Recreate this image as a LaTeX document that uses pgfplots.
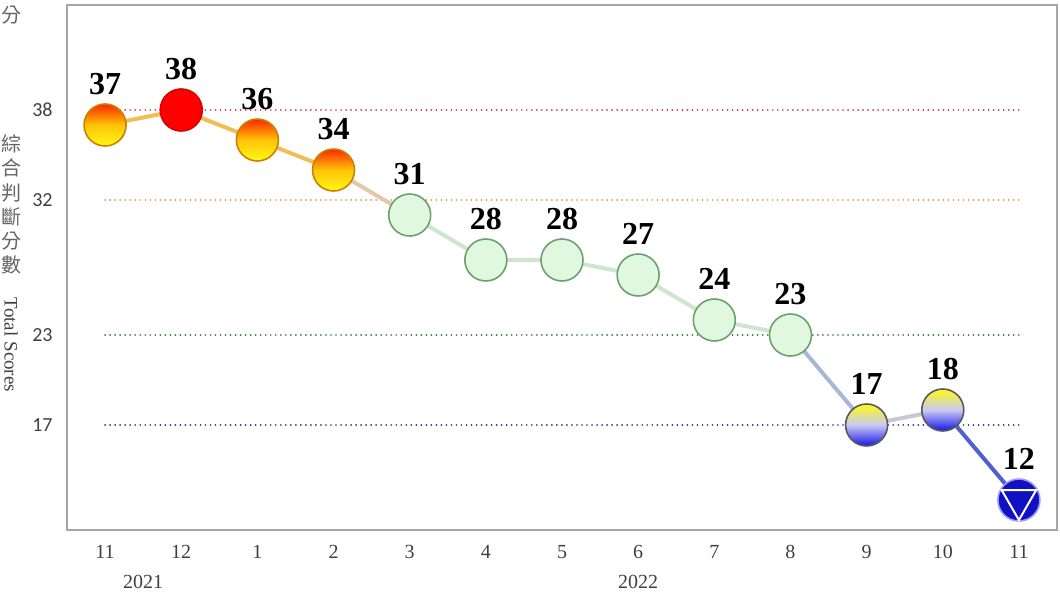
\documentclass[border=0pt]{standalone}
\usepackage{fontspec}
\setmainfont{Liberation Serif}
\newfontfamily\cjk{Noto Sans CJK TC}
\newfontfamily\carlito{Carlito}
\usepackage{pgfplots}
\pgfplotsset{compat=1.18}
\usetikzlibrary{shapes.geometric}

\definecolor{axgray}{RGB}{166,166,166}
\definecolor{labgray}{RGB}{64,64,64}
\definecolor{cjkgray}{RGB}{100,100,100}
\definecolor{refred}{RGB}{190,60,60}
\definecolor{reforange}{RGB}{225,145,70}
\definecolor{refgreen}{RGB}{40,125,40}
\definecolor{refblue}{RGB}{35,45,150}
\definecolor{ballred}{RGB}{250,40,0}
\definecolor{ballorange}{RGB}{255,160,0}
\definecolor{ballyellow}{RGB}{255,250,20}
\definecolor{ballgreen}{RGB}{224,248,224}
\definecolor{ballgreenedge}{RGB}{110,160,110}
\definecolor{ballblue}{RGB}{20,20,230}
\definecolor{segorange}{RGB}{240,190,85}
\definecolor{segtan}{RGB}{228,200,170}
\definecolor{seggreen}{RGB}{205,230,205}
\definecolor{segmix}{RGB}{165,185,215}
\definecolor{seggray}{RGB}{200,200,210}
\definecolor{segblue}{RGB}{80,95,210}

\pgfplotsset{
  refline/.style={line width=0.9pt, dash pattern=on 0.01pt off 2.5pt, line cap=round},
  seg/.style={line width=2pt, line cap=round},
  ball/.style={draw=none, nodes near coords={},
    every node near coord/.append style={circle, minimum size=21pt, inner sep=0pt,
      anchor=center, line width=0.8pt, #1}},
}

\begin{document}
\begin{tikzpicture}
\begin{axis}[
  scale only axis, width=495pt, height=262.5pt,
  xmin=-0.5, xmax=12.5, ymin=10, ymax=45,
  axis line style={draw=axgray, line width=1.1pt},
  xtick={0,...,12}, xticklabels={11,12,1,2,3,4,5,6,7,8,9,10,11},
  ytick={17,23,32,38}, yticklabels={17,23,32,38},
  major tick length=0pt,
  xticklabel style={font=\fontsize{10}{12}\selectfont, text=labgray, inner sep=0pt, yshift=-7.5pt},
  yticklabel style={font=\carlito\fontsize{10}{12}\selectfont, text=labgray, inner sep=0pt, xshift=-7pt},
  clip=false,
]
% reference levels
\addplot[refline, refred] coordinates {(0,38) (12,38)};
\addplot[refline, reforange] coordinates {(0,32) (12,32)};
\addplot[refline, refgreen] coordinates {(0,23) (12,23)};
\addplot[refline, refblue] coordinates {(0,17) (12,17)};

% connecting line, coloured piece by piece
\addplot[seg, segorange] coordinates {(0,37) (1,38) (2,36) (3,34)};
\addplot[seg, segtan] coordinates {(3,34) (4,31)};
\addplot[seg, seggreen] coordinates {(4,31) (5,28) (6,28) (7,27) (8,24) (9,23)};
\addplot[seg, segmix] coordinates {(9,23) (10,17)};
\addplot[seg, seggray] coordinates {(10,17) (11,18)};
\addplot[seg, segblue] coordinates {(11,18) (12,12)};

% balls
\addplot[ball={draw=ballorange!80!black, top color=ballred, bottom color=ballyellow, middle color=ballorange!60!ballyellow}]
  coordinates {(0,37) (2,36) (3,34)};
\addplot[ball={draw=red!85!black, fill=red}] coordinates {(1,38)};
\addplot[ball={draw=ballgreenedge, fill=ballgreen}]
  coordinates {(4,31) (5,28) (6,28) (7,27) (8,24) (9,23)};
\addplot[ball={draw=gray!70!black, top color=ballyellow, bottom color=ballblue, middle color=gray!30!blue!25}]
  coordinates {(10,17) (11,18)};
\addplot[ball={draw=blue!40, fill=ballblue!85!black}] coordinates {(12,12)};
\addplot[draw=none, nodes near coords={},
  every node near coord/.append style={regular polygon, regular polygon sides=3,
    shape border rotate=180, minimum size=20pt, inner sep=0pt, anchor=center,
    draw=white, line width=1pt}] coordinates {(12,12)};

% value labels
\addplot[draw=none, nodes near coords, point meta=explicit symbolic,
  every node near coord/.append style={font=\bfseries\fontsize{16}{18}\selectfont,
    anchor=south, inner sep=0pt, yshift=15pt}]
  coordinates {(0,37)[37] (1,38)[38] (2,36)[36] (3,34)[34] (4,31)[31] (5,28)[28]
    (6,28)[28] (7,27)[27] (8,24)[24] (9,23)[23] (10,17)[17] (11,18)[18] (12,12)[12]};

% years
\node[font=\fontsize{10}{12}\selectfont, text=labgray] at (axis cs:0.5,10) [yshift=-26pt] {2021};
\node[font=\fontsize{10}{12}\selectfont, text=labgray] at (axis cs:7,10) [yshift=-26pt] {2022};

% axis title
\node[font=\cjk\fontsize{10}{12}\selectfont, text=cjkgray, inner sep=0pt]
  at ([xshift=-27.5pt, yshift=-5pt]rel axis cs:0,1) {分};
\node[font=\cjk\fontsize{10}{12.1}\selectfont, text=cjkgray, inner sep=0pt, align=center]
  at ([xshift=-27.5pt, yshift=-99.75pt]rel axis cs:0,1) {綜\\合\\判\\斷\\分\\數};
\node[font=\fontsize{9.5}{11}\selectfont, text=labgray, inner sep=0pt, rotate=-90]
  at ([xshift=-28pt, yshift=-170pt]rel axis cs:0,1) {Total Scores};
\end{axis}
\path ([xshift=-33.5pt, yshift=-33pt]current axis.south west)
  rectangle ([xshift=1.5pt, yshift=2.5pt]current axis.north east);
\end{tikzpicture}
\end{document}
